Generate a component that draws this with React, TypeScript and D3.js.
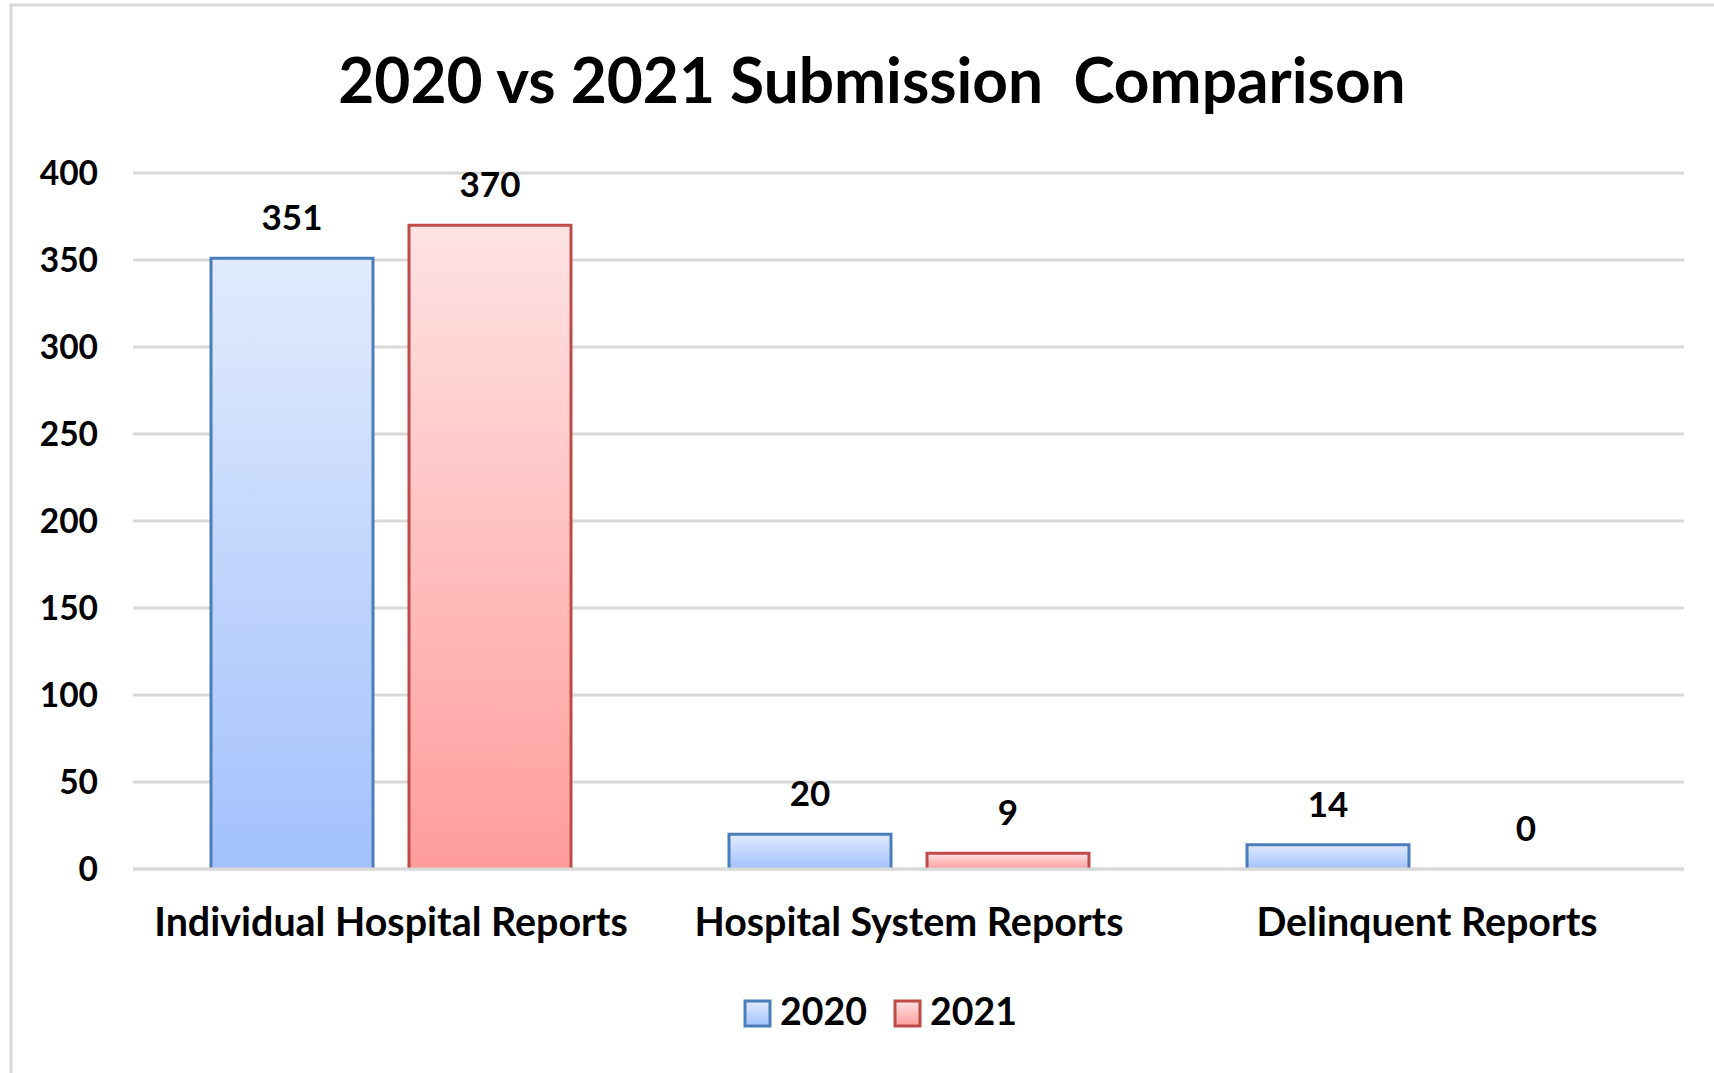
import React from "react";
import * as d3 from "d3";

const categories = ["Individual Hospital Reports", "Hospital System Reports", "Delinquent Reports"];
const seriesNames = ["2020", "2021"];
const values2020 = [351, 20, 14];
const values2021 = [370, 9, 0];
const yTicks = [0, 50, 100, 150, 200, 250, 300, 350, 400];
const title = "2020 vs 2021 Submission  Comparison";

const W = 1714;
const H = 1073;
const FONT = "Lato, 'Open Sans', sans-serif";

const colors = {
  "2020": { top: "#e1ebfd", bottom: "#a2c1fc", stroke: "#4a7ebb" },
  "2021": { top: "#ffe3e3", bottom: "#ff9c9c", stroke: "#be4b48" },
};

export default function App() {
  const x0 = d3.scaleBand<string>().domain(categories).range([132, 1686]).padding(0);
  const x1 = d3
    .scaleBand<string>()
    .domain(seriesNames)
    .range([0, x0.bandwidth()])
    .paddingInner(0.1818)
    .paddingOuter(0.399);
  const y = d3.scaleLinear().domain([0, 400]).range([869, 173]);

  const data = seriesNames.map((s, si) => ({
    name: s,
    values: si === 0 ? values2020 : values2021,
  }));

  return (
    <svg
      width={W}
      height={H}
      style={{ position: "absolute", left: 0, top: 0, background: "#fff", display: "block" }}
    >
      <defs>
        {seriesNames.map((s) => (
          <linearGradient key={s} id={`grad${s}`} x1="0" y1="0" x2="0" y2="1">
            <stop offset="0%" stopColor={colors[s].top} />
            <stop offset="100%" stopColor={colors[s].bottom} />
          </linearGradient>
        ))}
      </defs>
      <rect x={0} y={0} width={W} height={H} fill="#fff" />
      {/* outer frame */}
      <rect x={11} y={5} width={W + 20} height={H + 20} fill="none" stroke="#d9d9d9" strokeWidth={3} />

      {/* title */}
      <text
        x={872}
        y={103}
        textAnchor="middle"
        fontFamily={FONT}
        fontWeight="bold"
        fontSize={62.2}
        fill="#000"
        style={{ whiteSpace: "pre" }}
      >
        {title}
      </text>

      {/* gridlines */}
      {yTicks.map((t) => (
        <g key={t}>
          <line x1={133} x2={1684} y1={y(t)} y2={y(t)} stroke="#d9d9d9" strokeWidth={3} />
          <text
            x={98}
            y={y(t)}
            dy="0.36em"
            textAnchor="end"
            fontFamily={FONT}
            fontWeight="bold"
            fontSize={33.5}
            fill="#000"
          >
            {t}
          </text>
        </g>
      ))}

      {/* bars */}
      {data.map((s) =>
        s.values.map((v, i) => {
          const bx = (x0(categories[i]) as number) + (x1(s.name) as number);
          const bw = x1.bandwidth();
          const by = y(v);
          const bh = y(0) - y(v);
          return (
            <g key={s.name + i}>
              {v > 0 && (
                <>
                  <rect x={bx} y={by} width={bw} height={bh} fill={`url(#grad${s.name})`} />
                  <path
                    d={`M${bx},${y(0)}V${by}H${bx + bw}V${y(0)}`}
                    fill="none"
                    stroke={colors[s.name].stroke}
                    strokeWidth={3}
                  />
                </>
              )}
              <text
                x={bx + bw / 2}
                y={by - 28}
                textAnchor="middle"
                fontFamily={FONT}
                fontWeight="bold"
                fontSize={35}
                fill="#000"
              >
                {v}
              </text>
            </g>
          );
        })
      )}
      {/* baseline redrawn */}
      <line x1={133} x2={1684} y1={y(0)} y2={y(0)} stroke="#d9d9d9" strokeWidth={3} />

      {/* category labels */}
      {categories.map((c) => (
        <text
          key={c}
          x={(x0(c) as number) + x0.bandwidth() / 2}
          y={936}
          textAnchor="middle"
          fontFamily={FONT}
          fontWeight="bold"
          fontSize={39.4}
          fill="#000"
        >
          {c}
        </text>
      ))}

      {/* legend */}
      {seriesNames.map((s, i) => {
        const lx = 745 + i * 150;
        return (
          <g key={s}>
            <rect
              x={lx}
              y={1001}
              width={25}
              height={25}
              fill={`url(#grad${s})`}
              stroke={colors[s].stroke}
              strokeWidth={3}
            />
            <text
              x={lx + 35}
              y={1025}
              fontFamily={FONT}
              fontWeight="bold"
              fontSize={37.5}
              fill="#000"
            >
              {s}
            </text>
          </g>
        );
      })}
    </svg>
  );
}
